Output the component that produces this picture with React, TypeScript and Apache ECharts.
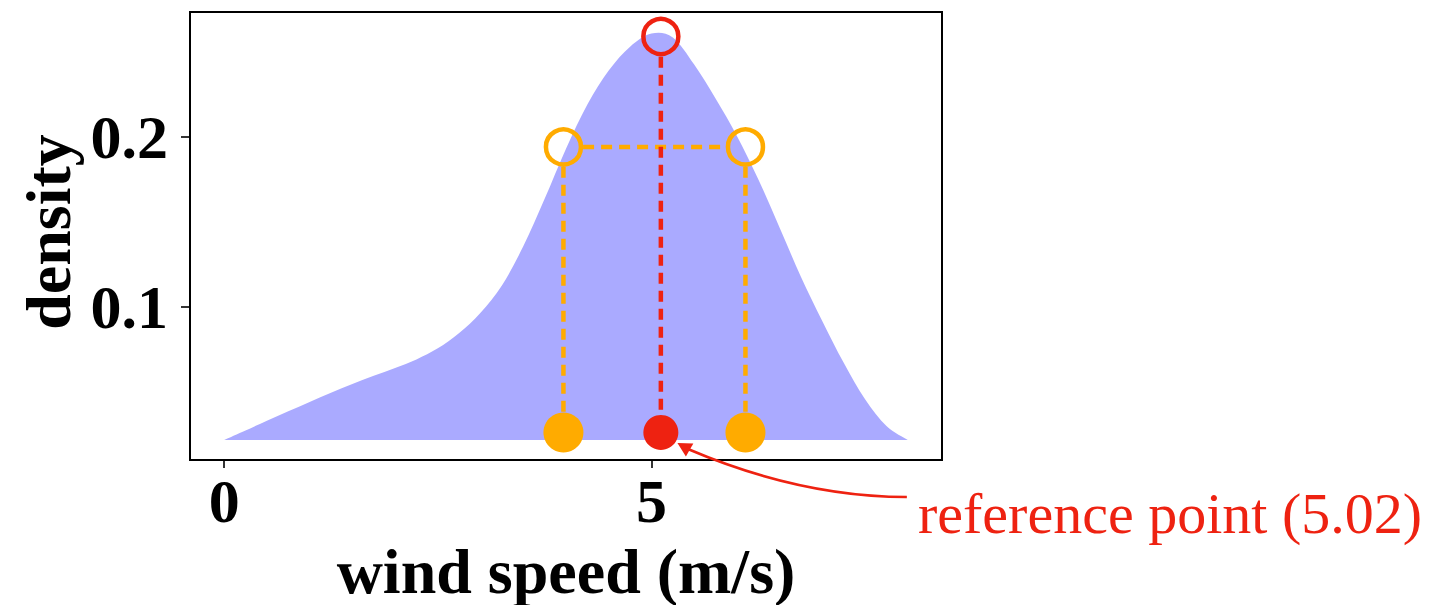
import React, { useEffect, useRef } from "react";
import * as echarts from "echarts";

// Density curve (wind speed, density)
const densityX = [0, 0.25, 0.5, 0.75, 1.0, 1.25, 1.5, 1.75, 2.0, 2.25, 2.5, 2.75, 3.0, 3.25, 3.5, 3.75, 4.0, 4.25, 4.5, 4.75, 5.0, 5.25, 5.5, 5.75, 6.0, 6.25, 6.5, 6.75, 7.0, 7.25, 7.5, 7.75, 8.0];
const densityY = [0.0216, 0.0272, 0.0329, 0.0385, 0.044, 0.0494, 0.0545, 0.0593, 0.064, 0.069, 0.0755, 0.0845, 0.0965, 0.1125, 0.1355, 0.1635, 0.193, 0.219, 0.239, 0.253, 0.2607, 0.2584, 0.2425, 0.2225, 0.2005, 0.175, 0.1465, 0.1175, 0.0915, 0.067, 0.0455, 0.0298, 0.0216];
const densityBase = 0.0216;

// Band points (orange) and peak (red)
const bandX = [3.97, 6.1];
const bandY = 0.194;
const peakX = 5.11;
const peakY = 0.259;
const dotY = 0.026;

// Dashed connector ends (read at circle edges)
const bandVTop = 0.1824;
const peakVTop = 0.247;
const bandHLeft = 4.2;
const bandHRight = 5.87;

const xTicks = [0, 5];
const yTicks = [0.1, 0.2];
const xRange = [-0.4, 8.4];
const yRange = [0.0098, 0.2734];

const FILL = "#aaaaff";
const ORANGE = "#ffab00";
const RED = "#ee2211";
const SERIF = "'Liberation Serif', 'Times New Roman', serif";

function areaPath(api: any): string {
  const pts = densityX.map((x, i) => api.coord([x, densityY[i]]) as number[]);
  const b0 = api.coord([densityX[0], densityBase]);
  const bN = api.coord([densityX[densityX.length - 1], densityBase]);
  let d = `M${b0[0]},${b0[1]} L${pts[0][0]},${pts[0][1]}`;
  const n = pts.length;
  for (let i = 0; i < n - 1; i++) {
    const p0 = pts[Math.max(0, i - 1)];
    const p1 = pts[i];
    const p2 = pts[i + 1];
    const p3 = pts[Math.min(n - 1, i + 2)];
    const c1x = p1[0] + (p2[0] - p0[0]) / 6;
    const c1y = p1[1] + (p2[1] - p0[1]) / 6;
    const c2x = p2[0] - (p3[0] - p1[0]) / 6;
    const c2y = p2[1] - (p3[1] - p1[1]) / 6;
    d += ` C${c1x},${c1y} ${c2x},${c2y} ${p2[0]},${p2[1]}`;
  }
  d += ` L${bN[0]},${bN[1]} Z`;
  return d;
}

export default function App() {
  const ref = useRef<HTMLDivElement>(null);
  useEffect(() => {
    if (!ref.current) return;
    const chart = echarts.init(ref.current, null, { renderer: "svg" });
    const dash = [11, 7];
    const option: any = {
      animation: false,
      grid: { left: 190, top: 12, right: 497, bottom: 145, show: true, borderColor: "#000", borderWidth: 2, backgroundColor: "transparent" },
      xAxis: {
        type: "value",
        min: xRange[0],
        max: xRange[1],
        splitLine: { show: false },
        axisLine: { show: true, onZero: false, lineStyle: { color: "#000", width: 2 } },
        axisTick: { show: true, length: 8, lineStyle: { color: "#000", width: 1.6 }, customValues: xTicks },
        axisLabel: { customValues: xTicks, color: "#000", fontFamily: SERIF, fontWeight: "bold", fontSize: 62, margin: 10 },
      },
      yAxis: {
        type: "value",
        min: yRange[0],
        max: yRange[1],
        splitLine: { show: false },
        axisLine: { show: true, onZero: false, lineStyle: { color: "#000", width: 2 } },
        axisTick: { show: true, length: 9, lineStyle: { color: "#000", width: 1.6 }, customValues: yTicks },
        axisLabel: { customValues: yTicks, color: "#000", fontFamily: SERIF, fontWeight: "bold", fontSize: 62, margin: 22, formatter: (v: number) => v.toFixed(1) },
      },
      series: [
        {
          type: "custom",
          data: [[densityX[0], densityY[0]]],
          renderItem: (_params: any, api: any) => ({
            type: "path",
            shape: { pathData: areaPath(api) },
            style: { fill: FILL, stroke: "none" },
          }),
          silent: true,
          z: 1,
        },
        {
          type: "line",
          data: [[bandHLeft, bandY], [bandHRight, bandY]],
          showSymbol: false,
          lineStyle: { color: ORANGE, width: 4.5, type: dash },
          z: 2,
        },
        ...bandX.map((x) => ({
          type: "line",
          data: [[x, bandVTop], [x, dotY]],
          showSymbol: false,
          lineStyle: { color: ORANGE, width: 4.5, type: dash },
          z: 2,
        })),
        {
          type: "line",
          data: [[peakX, peakVTop], [peakX, dotY]],
          showSymbol: false,
          lineStyle: { color: RED, width: 4.5, type: dash },
          z: 3,
        },
        {
          type: "scatter",
          data: bandX.map((x) => [x, bandY]),
          symbol: "circle",
          symbolSize: 35,
          itemStyle: { color: "rgba(0,0,0,0)", borderColor: ORANGE, borderWidth: 4.5, opacity: 1 },
          z: 4,
        },
        {
          type: "scatter",
          data: [[peakX, peakY]],
          symbol: "circle",
          symbolSize: 35,
          itemStyle: { color: "rgba(0,0,0,0)", borderColor: RED, borderWidth: 4.5, opacity: 1 },
          z: 4,
        },
        {
          type: "scatter",
          data: bandX.map((x) => [x, dotY]),
          symbol: "circle",
          symbolSize: 40,
          itemStyle: { color: ORANGE, opacity: 1 },
          z: 4,
        },
        {
          type: "scatter",
          data: [[peakX, dotY]],
          symbol: "circle",
          symbolSize: 35,
          itemStyle: { color: RED, opacity: 1 },
          z: 5,
        },
      ],
    };
    chart.setOption(option);

    const p = chart.convertToPixel({ gridIndex: 0 }, [peakX, dotY]) as number[];
    const px = p[0];
    const py = p[1];
    const tip = [px + 16.6, py + 10.6];
    const dir = [0.868, 0.497];
    const headLen = 14;
    const halfW = 7.5;
    const base = [tip[0] + dir[0] * headLen, tip[1] + dir[1] * headLen];
    const perp = [-dir[1], dir[0]];
    chart.setOption({
      graphic: [
        {
          type: "bezierCurve",
          shape: { x1: px + 246, y1: py + 64.6, cpx1: px + 139, cpy1: py + 64.3, x2: base[0] - dir[0] * 2, y2: base[1] - dir[1] * 2 },
          style: { stroke: RED, lineWidth: 2.6, fill: null },
          z: 10,
        },
        {
          type: "polygon",
          shape: {
            points: [
              tip,
              [base[0] + perp[0] * halfW, base[1] + perp[1] * halfW],
              [base[0] - perp[0] * halfW, base[1] - perp[1] * halfW],
            ],
          },
          style: { fill: RED },
          z: 10,
        },
        {
          type: "text",
          x: 918,
          y: 513,
          style: { text: "reference point (5.02)", fill: RED, font: `normal 58px ${SERIF}`, align: "left", verticalAlign: "middle" },
          z: 10,
        },
        {
          type: "text",
          x: 566,
          y: 571,
          style: { text: "wind speed (m/s)", fill: "#000", font: `bold 64px ${SERIF}`, align: "center", verticalAlign: "middle" },
          z: 10,
        },
        {
          type: "text",
          x: 48,
          y: 232,
          rotation: Math.PI / 2,
          style: { text: "density", fill: "#000", font: `bold 64px ${SERIF}`, align: "center", verticalAlign: "middle" },
          z: 10,
        },
      ],
    });
    return () => chart.dispose();
  }, []);
  return <div ref={ref} style={{ position: "fixed", left: 0, top: 0, width: 1439, height: 605 }} />;
}
